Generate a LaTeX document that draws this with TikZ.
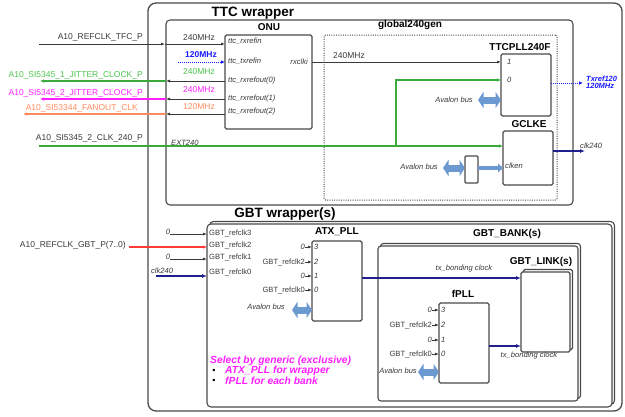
\documentclass[tikz,border=0pt]{standalone}
\usepackage{fontspec}
\setmainfont{Liberation Sans}
\usetikzlibrary{arrows.meta,shadows}
\definecolor{bxc}{HTML}{4A4A4A}
\definecolor{txc}{HTML}{3A3A3A}
\definecolor{lnc}{HTML}{3A3A3A}
\definecolor{grl}{HTML}{3AAA3A}
\definecolor{grt}{HTML}{4CC44C}
\definecolor{mag}{HTML}{FF1FFF}
\definecolor{org}{HTML}{FF8A5C}
\definecolor{blu}{HTML}{1A1AFF}
\definecolor{nav}{HTML}{1F1F8F}
\definecolor{redl}{HTML}{FF3A3A}
\definecolor{avc}{HTML}{6C9AD0}
\begin{document}
\begin{tikzpicture}[x=1pt,y=-1pt,
  box/.style={draw=bxc, line width=1.1pt, rounded corners=1.5pt, inner sep=0pt, outer sep=0pt, anchor=north west, fill=white},
  stackbox/.style={box, rounded corners=3pt, copy shadow={shadow xshift=2.5pt,shadow yshift=2.5pt,draw=bxc,fill=white,line width=1.1pt}},
  dotbox/.style={draw=bxc, line width=1pt, dash pattern=on 1pt off 1.3pt, rounded corners=1.5pt, inner sep=0pt, outer sep=0pt, anchor=north west},
  ttl/.style={inner sep=0pt, font=\fontsize{10}{12}\selectfont\bfseries, text=black},
  big/.style={inner sep=0pt, font=\fontsize{13.5}{15}\selectfont\bfseries, text=black},
  lbl/.style={inner sep=0pt, font=\fontsize{8.5}{10}\selectfont, text=txc},
  sml/.style={inner sep=0pt, font=\fontsize{7.6}{9}\selectfont, text=txc},
  ital/.style={inner sep=0pt, font=\fontsize{7.6}{9}\selectfont\itshape, text=txc},
  port/.style={inner sep=0pt, font=\fontsize{7.6}{8}\selectfont\itshape, text=txc, anchor=west},
  mg/.style={inner sep=0pt, font=\fontsize{10.3}{10}\selectfont\bfseries\itshape, text=mag, anchor=west},
  ln/.style={draw=lnc, line width=0.8pt, -{Latex[length=4pt,width=3pt]}},
  cln/.style={line width=1.1pt, -{Latex[length=4pt,width=3.5pt]}},
  navln/.style={draw=nav, line width=1.5pt, -{Latex[length=5pt,width=4pt]}},
  dotln/.style={draw=blu, line width=1pt, dash pattern=on 1pt off 1pt, -{Latex[length=4pt,width=3.5pt]}},
  fattwo/.style={draw=avc, line width=7pt, {Triangle[length=5.5pt,width=16pt]}-{Triangle[length=5.5pt,width=16pt]}},
  fatone/.style={draw=avc, line width=3.5pt, -{Triangle[length=5pt,width=8.5pt]}}
]
\useasboundingbox (0,0) rectangle (625,416);
% ---------- boxes ----------
\node[box, rounded corners=8pt, line width=1.3pt, minimum width=474pt, minimum height=408pt] (ttc) at (148,3) {};
\node[box, rounded corners=4pt, minimum width=407pt, minimum height=185pt] (gbox) at (166,20) {};
\node[dotbox, minimum width=233pt, minimum height=165pt] (dot) at (324,35) {};
\node[box, minimum width=87pt, minimum height=94pt] (onu) at (225,35) {};
\node[box, minimum width=50pt, minimum height=62pt] (ttcpll) at (501,54) {};
\node[box, minimum width=50pt, minimum height=54pt] (gclke) at (503,131) {};
\node[box, rounded corners=1pt, minimum width=13pt, minimum height=27pt] (cfg) at (465,156) {};
\node[stackbox, rounded corners=4pt, minimum width=405pt, minimum height=183pt] (gbt) at (207,224) {};
\node[box, minimum width=50pt, minimum height=80pt] (atx) at (312,241) {};
\node[stackbox, minimum width=200pt, minimum height=155pt] (bank) at (378,246) {};
\node[stackbox, rounded corners=1.5pt, minimum width=49pt, minimum height=80pt] (link) at (521,272) {};
\node[box, minimum width=50pt, minimum height=80pt] (fpll) at (439,303) {};
% ---------- titles ----------
\node[big] (tttc) at (253,13) {TTC wrapper};
\node[ttl] (tonu) at (269,27) {ONU};
\node[ttl] (tglob) at (410,25) {global240gen};
\node[ttl] (tpll) at (520,47) {TTCPLL240F};
\node[ttl] (tgclke) at (529,124) {GCLKE};
\node[big] (tgbt) at (285,214) {GBT wrapper(s)};
\node[ttl] (tatx) at (337,232) {ATX\_PLL};
\node[ttl] (tbank) at (507,234) {GBT\_BANK(s)};
\node[ttl] (tlink) at (541,262) {GBT\_LINK(s)};
\node[ttl] (tfpll) at (463,294) {fPLL};
% ---------- ONU ports ----------
\node[port] (o1) at (228,41) {ttc\_rxrefin};
\node[port] (o2) at (228,61) {ttc\_txrefin};
\node[port] (o3) at (228,81) {ttc\_rxrefout(0)};
\node[port] (o4) at (228,99) {ttc\_rxrefout(1)};
\node[port] (o5) at (228,112) {ttc\_rxrefout(2)};
\node[port, anchor=east] (o6) at (308,62) {rxclki};
% ---------- left side signals ----------
\node[lbl, anchor=base east] (ltfc) at (143,39) {A10\_REFCLK\_TFC\_P};
\node[lbl, anchor=base east, text=grt] (lj1) at (143,77) {A10\_SI5345\_1\_JITTER\_CLOCK\_P};
\node[lbl, anchor=base east, text=mag] (lj2) at (143,95) {A10\_SI5345\_2\_JITTER\_CLOCK\_P};
\node[lbl, anchor=base east, text=org] (lfo) at (138,110) {A10\_SI53344\_FANOUT\_CLK};
\node[lbl, anchor=base east] (lext) at (143,140) {A10\_SI5345\_2\_CLK\_240\_P};
\node[lbl] (f1) at (199,38) {240MHz};
\node[lbl, text=blu, font=\fontsize{8.5}{10}\selectfont\bfseries] (f2) at (201,55) {120MHz};
\node[lbl, text=grt] (f3) at (199,72) {240MHz};
\node[lbl, text=mag] (f4) at (199,90) {240MHz};
\node[lbl, text=org] (f5) at (199,107) {120MHz};
\node[ital, anchor=base west] (fext) at (171,145) {EXT240};
\node[lbl] (f6) at (349,56) {240MHz};
\coordinate (tfcL) at (39,44);
\coordinate (tfcB) at (165,44);
\coordinate (txin) at (178,62);
\coordinate (j1B) at (166,81);
\coordinate (j1L) at (40,81);
\coordinate (j2B) at (166,99);
\coordinate (j2L) at (40,99);
\coordinate (j3B) at (166,114);
\coordinate (j3L) at (23,114);
\coordinate (extL) at (39,146);
\coordinate (jn) at (396,146);
\coordinate (tp1) at (501,62);
\coordinate (tp0) at (501,80);
\draw[ln] (tfcL) -- (tfcB);
\draw[ln] (tfcB) -- (onu.west |- tfcB);
\draw[dotln] (txin) -- (onu.west |- txin);
\draw[ln] (onu.west |- j1B) -- (j1B);
\draw[cln, draw=grl] (j1B) -- (j1L);
\draw[ln] (onu.west |- j2B) -- (j2B);
\draw[cln, draw=mag] (j2B) -- (j2L);
\draw[ln] (onu.west |- j3B) -- (j3B);
\draw[cln, draw=org, line width=1.5pt] (j3B) -- (j3L);
\draw[cln, draw=grl] (extL) -- (gclke.west |- extL);
\draw[cln, draw=grl] (jn) |- (tp0);
\draw[ln] (onu.east |- tp1) -- (tp1);
% ---------- TTCPLL240F ----------
\node[port] (pp1) at (507,62) {1};
\node[port] (pp0) at (507,80) {0};
\node[ital, anchor=east] (av1) at (473,100) {Avalon bus};
\coordinate (av1a) at (478,100);
\draw[fattwo] (av1a) -- (ttcpll.west |- av1a);
\coordinate (txo) at (583,83);
\draw[dotln] (ttcpll.east |- txo) -- (txo);
\node[inner sep=0pt, anchor=west, align=left, text=blu, font=\fontsize{7.5}{7.2}\selectfont\bfseries\itshape] (txr) at (586,82.5) {Txref120\\120MHz};
% ---------- GCLKE ----------
\node[port] (cken) at (505,166) {clken};
\node[ital, anchor=east] (av2) at (438,167) {Avalon bus};
\coordinate (av2a) at (443,168);
\draw[fattwo] (av2a) -- (cfg.west |- av2a);
\draw[fatone] (cfg.east |- av2a) -- (gclke.west |- av2a);
\coordinate (c240) at (585,151);
\draw[navln] (gclke.east |- c240) -- (c240);
\node[ital, anchor=south west] (lc240) at (580,149) {clk240};
% ---------- GBT wrapper inputs ----------
\node[sml, anchor=west] (g3) at (209,233) {GBT\_refclk3};
\node[sml, anchor=west] (g2) at (209,245.5) {GBT\_refclk2};
\node[sml, anchor=west] (g1) at (209,257.5) {GBT\_refclk1};
\node[sml, anchor=west] (g0) at (209,272) {GBT\_refclk0};
\node[ital] (z3) at (168,232) {0};
\node[ital] (z1) at (168,257) {0};
\node[lbl, anchor=base east] (lgbt) at (126,247.5) {A10\_REFCLK\_GBT\_P(7..0)};
\node[ital] (ck) at (162,271) {clk240};
\coordinate (r3) at (207,234);
\coordinate (r2) at (207,247);
\coordinate (r1) at (207,259);
\coordinate (r0) at (207,276);
\coordinate (r2s) at (129,247);
\coordinate (r0s) at (156,276);
\draw[ln] (z3.east |- r3) -- (r3);
\draw[cln, draw=redl, line width=1.6pt] (r2s) -- (r2);
\draw[ln] (z1.east |- r1) -- (r1);
\draw[navln] (r0s) -- (r0);
% ---------- ATX_PLL ----------
\node[port] (a3) at (314,247) {3};
\node[port] (a2) at (314,262) {2};
\node[port] (a1) at (314,276) {1};
\node[port] (a0) at (314,290) {0};
\node[ital, anchor=east] (al3) at (305,247) {0};
\node[sml, anchor=east] (al2) at (305,262) {GBT\_refclk2};
\node[ital, anchor=east] (al1) at (305,276) {0};
\node[sml, anchor=east] (al0) at (305,290) {GBT\_refclk0};
\draw[ln] (al3.east) -- (atx.west |- al3);
\draw[ln] (al2.east) -- (atx.west |- al2);
\draw[ln] (al1.east) -- (atx.west |- al1);
\draw[ln] (al0.east) -- (atx.west |- al0);
\node[ital, anchor=east] (av3) at (285,307) {Avalon bus};
\coordinate (av3a) at (292,310);
\draw[fattwo] (av3a) -- (atx.west |- av3a);
\coordinate (tb1) at (521,278);
\draw[navln] (atx.east |- tb1) -- (tb1);
\node[ital] (ltb1) at (464,269) {tx\_bonding clock};
% ---------- fPLL ----------
\node[port] (fp3) at (441,310) {3};
\node[port] (fp2) at (441,325) {2};
\node[port] (fp1) at (441,340) {1};
\node[port] (fp0) at (441,354) {0};
\node[ital, anchor=east] (fl3) at (432,310) {0};
\node[sml, anchor=east] (fl2) at (432,325) {GBT\_refclk2};
\node[ital, anchor=east] (fl1) at (432,340) {0};
\node[sml, anchor=east] (fl0) at (432,354) {GBT\_refclk0};
\draw[ln] (fl3.east) -- (fpll.west |- fl3);
\draw[ln] (fl2.east) -- (fpll.west |- fl2);
\draw[ln] (fl1.east) -- (fpll.west |- fl1);
\draw[ln] (fl0.east) -- (fpll.west |- fl0);
\node[ital, anchor=east] (av4) at (417,371) {Avalon bus};
\coordinate (av4a) at (418,372);
\draw[fattwo] (av4a) -- (fpll.west |- av4a);
\coordinate (tb2) at (521,346);
\draw[navln] (fpll.east |- tb2) -- (tb2);
\node[ital] (ltb2) at (529,356) {tx\_bonding clock};
% ---------- note ----------
\node[mg] (sel) at (210,361) {Select by generic (exclusive)};
\node[inner sep=0pt, font=\fontsize{9}{9}\selectfont, text=black] (b1) at (214,371) {•};
\node[inner sep=0pt, font=\fontsize{9}{9}\selectfont, text=black] (b2) at (214,381) {•};
\node[mg] (m1) at (225,371) {ATX\_PLL for wrapper};
\node[mg] (m2) at (225,381) {fPLL for each bank};
\end{tikzpicture}
\end{document}
